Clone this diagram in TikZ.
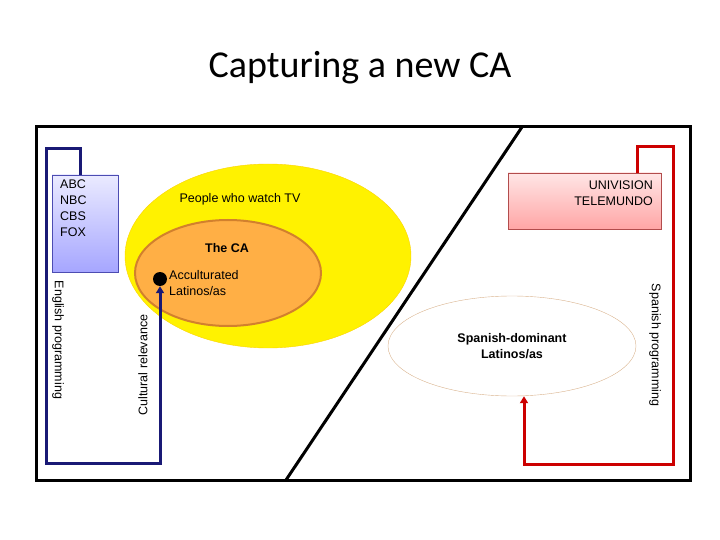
\documentclass[tikz,border=0pt]{standalone}
\usepackage{fontspec}
\setmainfont{Liberation Sans}
\newfontfamily\titlefont{Carlito}
\usetikzlibrary{arrows.meta,shapes.geometric}
\begin{document}
\begin{tikzpicture}[x=1pt,y=-1pt,
  lbl/.style={font=\fontsize{12.5}{16}\selectfont, inner sep=0pt},
  blueline/.style={draw=blue!40!black!90, line width=3pt},
  redline/.style={draw=red!80!black, line width=3pt}]
\useasboundingbox (0,0) rectangle (720,540);
\node[font=\titlefont\fontsize{38}{40}\selectfont] (title) at (360,68) {Capturing a new CA};
\draw[line width=3pt] (36,127) rectangle (690,480);
\coordinate (d1) at (522,127); \coordinate (d2) at (286,480);
\draw[line width=3pt] (d1) -- (d2);
\fill[yellow, draw=yellow!70!orange] (268,256) ellipse[x radius=143, y radius=92];
\fill[orange!70!white!90!yellow, draw=brown!70!orange, line width=2pt] (228,273) ellipse[x radius=93, y radius=53];
\node[draw=brown!60, ellipse, minimum width=248, minimum height=100] (sd) at (512,346) {};
\node[lbl, font=\bfseries\fontsize{12.5}{16}\selectfont, align=center] at (512,346) {Spanish-dominant\\Latinos/as};
\node[lbl] (tv) at (240,199) {People who watch TV};
\node[lbl, font=\bfseries\fontsize{12.5}{16}\selectfont] (ca) at (227,248) {The CA};
\node[circle, fill=black, minimum size=14pt, inner sep=0pt] (dot) at (160,279) {};
\node[lbl, anchor=west, align=left] (acc) at (169,283) {Acculturated\\Latinos/as};
\node[draw=blue!40!gray, top color=blue!8, bottom color=blue!35, minimum width=66, minimum height=97, inner sep=0pt] (abc) at (85,223.5) {};
\node[lbl, anchor=north west, align=left] at (60,180) {ABC\\NBC\\CBS\\FOX};
\node[draw=red!40!gray, top color=red!10, bottom color=red!35, minimum width=153, minimum height=56, inner sep=0pt] (uni) at (584.5,201) {};
\node[lbl, anchor=east, align=right] at (653,193) {UNIVISION\\TELEMUNDO};
\coordinate (b1) at (80,149); \coordinate (b2) at (46,149); \coordinate (b3) at (46,463); \coordinate (b4) at (160,463);
\draw[blueline, -{Triangle[length=7pt,width=8pt]}] (abc.north -| b1) -- (b1) -- (b2) -- (b3) -- (b4) -- (dot.south);
\coordinate (r1) at (637,147); \coordinate (r2) at (673,147); \coordinate (r3) at (673,464); \coordinate (r4) at (524,464);
\draw[redline, -{Triangle[length=7pt,width=8pt]}] (uni.north -| r1) -- (r1) -- (r2) -- (r3) -- (r4) -- (sd.south -| r4);
\node[lbl, rotate=-90] (eng) at (58,340) {English programming};
\node[lbl, rotate=90] (cult) at (143,365) {Cultural relevance};
\node[lbl, rotate=-90] (spa) at (655,345) {Spanish programming};
\end{tikzpicture}
\end{document}
